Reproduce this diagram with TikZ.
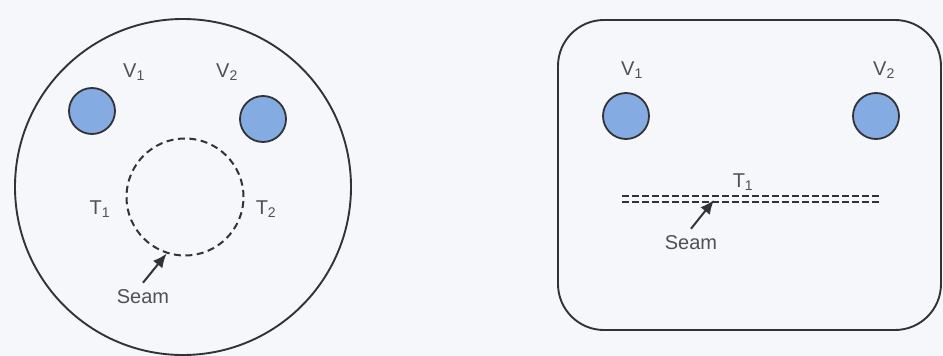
\documentclass[tikz,border=0pt]{standalone}
\usepackage{fontspec}
\setmainfont{Liberation Sans}
\usetikzlibrary{arrows.meta}
\definecolor{bg}{RGB}{246,247,250}
\definecolor{ink}{RGB}{50,50,55}
\definecolor{vblue}{RGB}{133,172,226}
\tikzset{
  lab/.style={font=\fontsize{20}{24}\selectfont, text=ink!85, inner sep=0pt},
  vessel/.style={circle, draw=ink, line width=1.8pt, fill=vblue, minimum size=46pt, inner sep=0pt},
  outline/.style={draw=ink, line width=1.9pt},
  tube/.style={draw=ink, line width=2pt, dash pattern=on 7pt off 4.5pt},
  pointer/.style={draw=ink, line width=2pt, -{Latex[length=14pt,width=12pt]}}
}
\begin{document}
\begin{tikzpicture}[x=1pt,y=-1pt]
\useasboundingbox (0,0) rectangle (943,356);
\fill[bg] (0,0) rectangle (943,356);
% left panel
\node[circle, outline, minimum size=336pt, inner sep=0pt] (outer) at (183,187) {};
\node[vessel] (lv1) at (92,111) {};
\node[vessel] (lv2) at (263,119) {};
\node[lab] (lv1t) at (134,72) {V\textsubscript{1}};
\node[lab] (lv2t) at (227,72) {V\textsubscript{2}};
\node[circle, tube, minimum size=117pt, inner sep=0pt] (ring) at (185,197) {};
\node[lab] (lt1) at (100,209) {T\textsubscript{1}};
\node[lab] (lt2) at (266,209) {T\textsubscript{2}};
\node[lab] (lseam) at (143,297) {Seam};
\draw[pointer] (lseam.north) ++(0,-7) coordinate (la) (la) -- (ring.252);
% right panel
\draw[outline, rounded corners=46pt] (558,20) rectangle (941,330);
\node[vessel] (rv1) at (626,116) {};
\node[vessel] (rv2) at (876,116) {};
\node[lab] (rv1t) at (632,70) {V\textsubscript{1}};
\node[lab] (rv2t) at (884,70) {V\textsubscript{2}};
\node[lab] (rt1) at (743,182) {T\textsubscript{1}};
\coordinate (ta) at (622,196);
\coordinate (tb) at (880,196);
\coordinate (tc) at (622,202);
\coordinate (td) at (880,202);
\draw[tube, line width=1.8pt, dash pattern=on 7pt off 3pt] (ta) -- (tb);
\draw[tube, line width=1.8pt, dash pattern=on 7pt off 3pt] (tc) -- (td);
\coordinate (rs) at (714,200);
\node[lab] (rseam) at (691,243) {Seam};
\draw[pointer] (rseam.north) ++(0,-7) coordinate (ra) (ra) -- (rs);
\end{tikzpicture}
\end{document}
